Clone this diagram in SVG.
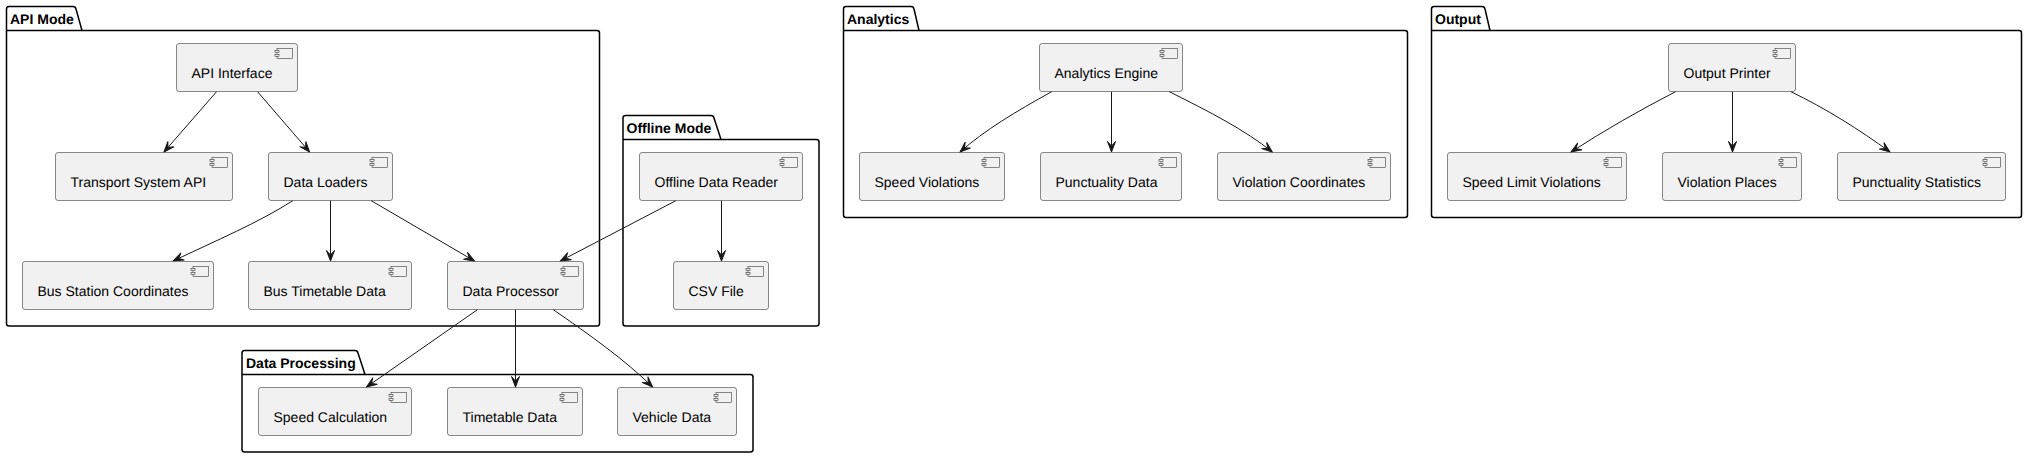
<svg xmlns="http://www.w3.org/2000/svg" width="2027" height="458" viewBox="0 0 2027 458">
<defs>
<style>
text{font-family:"Liberation Sans",Arial,sans-serif;fill:#000;text-rendering:geometricPrecision}
.n{font-size:14px}
.p{font-size:14px;font-weight:bold}
.pk{fill:none;stroke:#000;stroke-width:1.5}
.b{fill:#F1F1F1;stroke:#181818;stroke-width:.5}
.c{fill:none;stroke:#181818;stroke-width:1;marker-end:url(#a)}
</style>
<marker id="a" markerUnits="userSpaceOnUse" markerWidth="14" markerHeight="12" viewBox="-12 -6 14 12" refX="0" refY="0" orient="auto"><path d="M0,0L-10.5,-4L-6,0L-10.5,4Z" fill="#181818" stroke="#181818" stroke-width="1"/></marker>
<g id="i"><rect class="b" x="-20.5" y="5" width="15.5" height="10"/><rect class="b" x="-22.5" y="7" width="4" height="2"/><rect class="b" x="-22.5" y="11" width="4" height="2"/></g>
</defs>
<rect width="2027" height="458" fill="#fff"/>
<g id="pkg-api"><path class="pk" d="M9,6.5H73Q75.5,6.5 76,9L82,30.5H597Q599.5,30.5 599.5,33V323.5Q599.5,326 597,326H9Q6.5,326 6.5,323.5V9Q6.5,6.5 9,6.5ZM6.5,30.5H82"/><text class="p" x="10" y="24">API Mode</text></g>
<g id="pkg-offline"><path class="pk" d="M625.5,115.5H711Q713.5,115.5 714,118L721,139.5H816.5Q819,139.5 819,142V323.5Q819,326 816.5,326H625.5Q623,326 623,323.5V118Q623,115.5 625.5,115.5ZM623,139.5H721"/><text class="p" x="626.5" y="133">Offline Mode</text></g>
<g id="pkg-processing"><path class="pk" d="M244.5,350.5H355Q357.5,350.5 358,353L365,374.5H750.5Q753,374.5 753,377V449.5Q753,452 750.5,452H244.5Q242,452 242,449.5V353Q242,350.5 244.5,350.5ZM242,374.5H365"/><text class="p" x="246" y="368">Data Processing</text></g>
<g id="pkg-analytics"><path class="pk" d="M846,6.5H911Q913.5,6.5 914,9L919,30.5H1405Q1407.5,30.5 1407.5,33V215Q1407.5,217.5 1405,217.5H846Q843.5,217.5 843.5,215V9Q843.5,6.5 846,6.5ZM843.5,30.5H919"/><text class="p" x="847" y="24">Analytics</text></g>
<g id="pkg-output"><path class="pk" d="M1434,6.5H1482Q1484.5,6.5 1485,9L1490,30.5H2019Q2021.5,30.5 2021.5,33V215Q2021.5,217.5 2019,217.5H1434Q1431.5,217.5 1431.5,215V9Q1431.5,6.5 1434,6.5ZM1431.5,30.5H1490"/><text class="p" x="1435" y="24">Output</text></g>
<g id="connectors">
<path class="c" d="M216.7,91.5L164,152"/>
<path class="c" d="M257.4,91.5L309.6,152"/>
<path class="c" d="M293,200.5C260,222 215,241 173.2,261"/>
<path class="c" d="M330.5,200.5V261"/>
<path class="c" d="M370.9,200.5L474.5,261"/>
<path class="c" d="M676.2,200.5L560.3,261"/>
<path class="c" d="M721.5,200.5V261"/>
<path class="c" d="M477.7,309.5L366.5,387"/>
<path class="c" d="M515.5,309.5V387"/>
<path class="c" d="M553,309.5C590,335 625,360 652.6,387"/>
<path class="c" d="M1052,91.5C1015,112 985,130 960,152"/>
<path class="c" d="M1111.5,91.5V152"/>
<path class="c" d="M1169,91.5C1210,112 1245,130 1272.3,152"/>
<path class="c" d="M1675.9,91.5C1640,110 1605,130 1571,152"/>
<path class="c" d="M1732.5,91.5V152"/>
<path class="c" d="M1790.5,91.5C1825,108 1860,130 1890,152"/>
</g>
<g id="api-interface"><rect class="b" x="176.5" y="43.5" width="121" height="48" rx="2.5"/><use href="#i" x="297.5" y="43.5"/><text class="n" x="191.5" y="78">API Interface</text></g>
<g id="transport-system-api"><rect class="b" x="55.5" y="152.5" width="177" height="48" rx="2.5"/><use href="#i" x="232.5" y="152.5"/><text class="n" x="70.5" y="187">Transport System API</text></g>
<g id="data-loaders"><rect class="b" x="268.5" y="152.5" width="124" height="48" rx="2.5"/><use href="#i" x="392.5" y="152.5"/><text class="n" x="283.5" y="187">Data Loaders</text></g>
<g id="bus-station-coordinates"><rect class="b" x="22.5" y="261.5" width="191" height="48" rx="2.5"/><use href="#i" x="213.5" y="261.5"/><text class="n" x="37.5" y="296">Bus Station Coordinates</text></g>
<g id="bus-timetable-data"><rect class="b" x="248.5" y="261.5" width="163" height="48" rx="2.5"/><use href="#i" x="411.5" y="261.5"/><text class="n" x="263.5" y="296">Bus Timetable Data</text></g>
<g id="data-processor"><rect class="b" x="447.5" y="261.5" width="136" height="48" rx="2.5"/><use href="#i" x="583.5" y="261.5"/><text class="n" x="462.5" y="296">Data Processor</text></g>
<g id="offline-data-reader"><rect class="b" x="639.5" y="152.5" width="163" height="48" rx="2.5"/><use href="#i" x="802.5" y="152.5"/><text class="n" x="654.5" y="187">Offline Data Reader</text></g>
<g id="csv-file"><rect class="b" x="673.5" y="261.5" width="95" height="48" rx="2.5"/><use href="#i" x="768.5" y="261.5"/><text class="n" x="688.5" y="296">CSV File</text></g>
<g id="speed-calculation"><rect class="b" x="258.5" y="387.5" width="153" height="48" rx="2.5"/><use href="#i" x="411.5" y="387.5"/><text class="n" x="273.5" y="422">Speed Calculation</text></g>
<g id="timetable-data"><rect class="b" x="447.5" y="387.5" width="135" height="48" rx="2.5"/><use href="#i" x="582.5" y="387.5"/><text class="n" x="462.5" y="422">Timetable Data</text></g>
<g id="vehicle-data"><rect class="b" x="617.5" y="387.5" width="119" height="48" rx="2.5"/><use href="#i" x="736.5" y="387.5"/><text class="n" x="632.5" y="422">Vehicle Data</text></g>
<g id="analytics-engine"><rect class="b" x="1039.5" y="43.5" width="143" height="48" rx="2.5"/><use href="#i" x="1182.5" y="43.5"/><text class="n" x="1054.5" y="78">Analytics Engine</text></g>
<g id="speed-violations"><rect class="b" x="859.5" y="152.5" width="145" height="48" rx="2.5"/><use href="#i" x="1004.5" y="152.5"/><text class="n" x="874.5" y="187">Speed Violations</text></g>
<g id="punctuality-data"><rect class="b" x="1040.5" y="152.5" width="141" height="48" rx="2.5"/><use href="#i" x="1181.5" y="152.5"/><text class="n" x="1055.5" y="187">Punctuality Data</text></g>
<g id="violation-coordinates"><rect class="b" x="1217.5" y="152.5" width="173" height="48" rx="2.5"/><use href="#i" x="1390.5" y="152.5"/><text class="n" x="1232.5" y="187">Violation Coordinates</text></g>
<g id="output-printer"><rect class="b" x="1668.5" y="43.5" width="127" height="48" rx="2.5"/><use href="#i" x="1795.5" y="43.5"/><text class="n" x="1683.5" y="78">Output Printer</text></g>
<g id="speed-limit-violations"><rect class="b" x="1447.5" y="152.5" width="179" height="48" rx="2.5"/><use href="#i" x="1626.5" y="152.5"/><text class="n" x="1462.5" y="187">Speed Limit Violations</text></g>
<g id="violation-places"><rect class="b" x="1662.5" y="152.5" width="139" height="48" rx="2.5"/><use href="#i" x="1801.5" y="152.5"/><text class="n" x="1677.5" y="187">Violation Places</text></g>
<g id="punctuality-statistics"><rect class="b" x="1837.5" y="152.5" width="168" height="48" rx="2.5"/><use href="#i" x="2005.5" y="152.5"/><text class="n" x="1852.5" y="187">Punctuality Statistics</text></g>
</svg>
